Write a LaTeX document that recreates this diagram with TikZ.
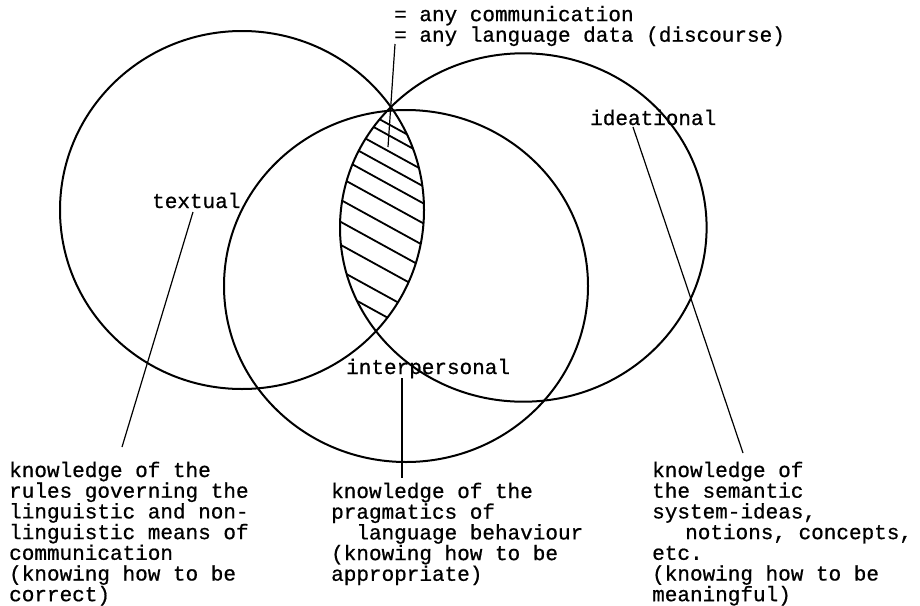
\documentclass[tikz,border=0pt]{standalone}
\usepackage{fontspec}
\setmonofont[FakeBold=0.7]{Liberation Mono}
\newcommand\mylblfont{\ttfamily\fontsize{21}{20.7}\selectfont}
\newcommand\mytopfont{\ttfamily\fontsize{21}{16.7}\selectfont}
\tikzset{
  circ/.style={line width=2pt},
  ptr/.style={line width=1.2pt},
  hatchline/.style={line width=1.8pt},
  lbl/.style={font=\mylblfont, inner sep=0pt, anchor=base west},
  txt/.style={font=\mylblfont, inner sep=0pt, anchor=base west, align=left},
}
\begin{document}
\begin{tikzpicture}[x=1pt,y=-1pt]
\fill[white] (0,0) rectangle (920,605);
\useasboundingbox (0,0) rectangle (920,605);

% hatched lens (textual and ideational overlap)
\begin{scope}
  \clip (242,210) ellipse [x radius=182pt, y radius=179pt];
  \clip (523.3,227.5) ellipse [x radius=183.3pt, y radius=174.2pt];
  \foreach \c in {92,103,119,135,152,172,194,216,239,265,286,307}
    \draw[hatchline] (330,\c) -- (440,\c+60.5);
\end{scope}

% circles
\draw[circ] (242,210) ellipse [x radius=182pt, y radius=179pt];
\draw[circ] (523.3,227.5) ellipse [x radius=183.3pt, y radius=174.2pt];
\draw[circ] (406,286) ellipse [x radius=182pt, y radius=176pt];

% labels (multi-line nodes: base = baseline of the last line)
\node[txt, font=\mytopfont] (top) at (394,41.7) {= any communication\\= any language data (discourse)};
\node[lbl] (textual) at (152,208) {textual};
\node[lbl] (interp) at (346,374) {interpersonal};
\node[lbl] (idea) at (590,125) {ideational};

\node[txt] (dleft) at (9,601.2) {knowledge of the\\rules governing the\\linguistic and non-\\linguistic means of\\communication\\(knowing how to be\\correct)};
\node[txt] (dmid) at (331,580.8) {knowledge of the\\pragmatics of\\\hspace*{25.2pt}language behaviour\\(knowing how to be\\appropriate)};
\node[txt] (dright) at (652,601.2) {knowledge of\\the semantic\\system-ideas,\\\hspace*{33pt}notions, concepts,\\etc.\\(knowing how to be\\meaningful)};

% pointer lines
\coordinate (p0a) at (395,44);  \coordinate (p0b) at (388,147);
\coordinate (p1a) at (193,212); \coordinate (p1b) at (122,447);
\coordinate (p2a) at (402,378); \coordinate (p2b) at (402,478);
\coordinate (p3a) at (633,127); \coordinate (p3b) at (743,453);
\draw[ptr] (p0a) -- (p0b);
\draw[ptr] (p1a) -- (p1b);
\draw[ptr, line width=2pt] (p2a) -- (p2b);
\draw[ptr] (p3a) -- (p3b);
\end{tikzpicture}
\end{document}
